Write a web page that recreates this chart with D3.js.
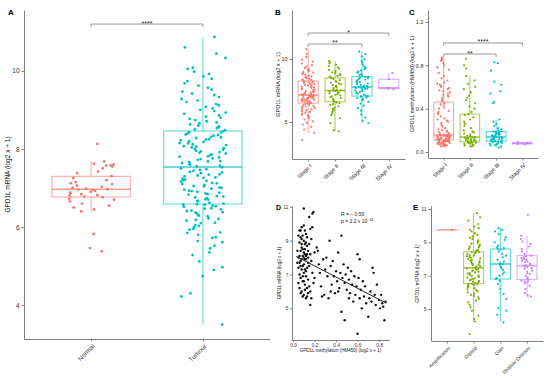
<!DOCTYPE html>
<html>
<head>
<meta charset="utf-8">
<script src="https://cdn.jsdelivr.net/npm/d3@7"></script>
<style>
body { margin: 0; background: #fff; }
svg { font-family: "Liberation Sans", Arial, sans-serif; }
.axis path, .axis line { stroke: #808080; }
.axis text { fill: #333; }
</style>
</head>
<body>
<script>
const parse = s => s.trim().split(/\s+/).map(Number);

// ---- Panel A: normal vs tumour ----
const catsA = ["Normal", "Tumour"];
const normalVals = parse(`8.13 7.68 7.62 7.6 7.58 7.57 7.55 7.5 7.42 7.38 7.3 7.25 7.2 7.15 7.12 7.1 7.06 7.03 7.0 6.98
 6.97 6.96 6.95 6.93 6.9 6.88 6.86 6.84 6.82 6.8 6.78 6.76 6.72 6.7 6.65 6.6 6.55 6.5 6.45 6.4 5.82 5.46 5.38`);
const tumourVals = parse(`3.5 4.22 4.3 4.74 4.9 4.97 5.12 5.28 5.35 5.45 5.52 5.61 5.64 5.72 5.74 5.8 5.85 5.86 5.93 5.95
 5.99 6.03 6.05 6.1 6.11 6.16 6.18 6.21 6.22 6.27 6.29 6.3 6.34 6.37 6.38 6.41 6.42 6.45 6.47 6.48 6.52 6.53 6.55 6.57 6.57 6.58
 6.6 6.62 6.66 6.67 6.7 6.71 6.74 6.76 6.78 6.79 6.83 6.84 6.86 6.88 6.9 6.92 6.93 6.96 6.98 7.0 7.01 7.04 7.05 7.08 7.1 7.12
 7.13 7.16 7.18 7.2 7.21 7.24 7.26 7.27 7.3 7.32 7.34 7.35 7.38 7.4 7.41 7.44 7.46 7.48 7.5 7.53
 7.55 7.57 7.6 7.61 7.64 7.66 7.68 7.69 7.72 7.74 7.76 7.78 7.8 7.81 7.84 7.86 7.88 7.9 7.92 7.94 7.95 7.98 8.0 8.02 8.04 8.06
 8.07 8.1 8.12 8.14 8.15 8.18 8.2 8.22 8.24 8.25 8.28 8.3 8.31 8.34 8.36 8.37 8.4 8.42 8.43 8.45
 8.48 8.5 8.53 8.55 8.58 8.6 8.63 8.66 8.68 8.71 8.74 8.77 8.8 8.83 8.86 8.9 8.93 8.97 9.0 9.04 9.08 9.12 9.15 9.2 9.24 9.28
 9.33 9.38 9.42 9.47 9.52 9.57 9.62 9.68 9.74 9.8 9.86 9.92 9.98 10.05 10.08 10.33 10.44 10.6 10.87`);
// [lower whisker, Q1, median, Q3, upper whisker]
const statsA = [[6.38, 6.77, 6.97, 7.3, 7.69], [3.5, 6.59, 7.54, 8.46, 10.85]];

// ---- Panel B: mRNA by stage ----
const stages = ["Stage I", "Stage II", "Stage III", "Stage IV"];
const mrnaStage1 = parse(`3.57 4.15 4.4 4.62 4.8 4.95 5.05 5.2 5.3 5.42 5.5 5.58 5.66 5.74 5.8 5.88 5.94 6.0 6.06 6.12 6.18
 6.23 6.28 6.33 6.38 6.42 6.46 6.49 6.52 6.55 6.58 6.61 6.64 6.66 6.69 6.72 6.74 6.77 6.79 6.82 6.84 6.87 6.89 6.91 6.94
 6.96 6.98 7.0 7.03 7.05 7.07 7.09 7.11 7.12 7.13 7.14 7.17 7.21 7.25 7.29 7.33 7.37 7.41 7.45 7.5 7.54 7.58 7.62 7.66 7.7
 7.74 7.78 7.82 7.86 7.9 7.94 7.98 8.02 8.06 8.1 8.14 8.18 8.22 8.24 8.28 8.33 8.38 8.43 8.48 8.53 8.58 8.63 8.68 8.74 8.8
 8.86 8.92 8.98 9.05 9.12 9.2 9.3 9.4 9.52 9.65 9.8 9.95 10.15 10.4 10.8`);
const mrnaStage2 = parse(`4.25 4.35 4.9 5.3 5.55 5.7 5.85 5.95 6.05 6.15 6.25 6.35 6.42 6.5 6.55 6.58 6.62 6.68 6.75 6.82
 6.9 6.97 7.03 7.1 7.16 7.22 7.28 7.33 7.38 7.43 7.47 7.49 7.52 7.58 7.64 7.7 7.76 7.82 7.88 7.94 8.0 8.06 8.12 8.18 8.25
 8.32 8.4 8.48 8.53 8.6 8.66 8.72 8.8 8.88 8.95 9.05 9.15 9.25 9.35 9.45 9.55 9.65 9.75 9.84`);
const mrnaStage3 = parse(`4.92 5.1 5.35 5.6 5.9 6.1 6.3 6.45 6.6 6.72 6.82 6.9 6.96 7.0 7.03 7.05 7.1 7.18 7.26 7.33 7.4
 7.46 7.52 7.57 7.62 7.66 7.7 7.73 7.75 7.76 7.77 7.78 7.8 7.85 7.9 7.95 8.0 8.06 8.12 8.18 8.24 8.3 8.36 8.42 8.48 8.52
 8.56 8.59 8.64 8.72 8.8 8.9 9.0 9.1 9.2 9.3 9.4 9.55 9.7 9.85 10.0 10.2 10.4 10.6`);
const mrnaStage4 = [7.6, 7.65, 7.72, 8.4, 8.9];
const statsB = [[4.13, 6.5, 7.14, 8.25, 10.8], [4.25, 6.6, 7.5, 8.5, 9.84], [4.92, 7.06, 7.78, 8.6, 10.6], [7.6, 7.65, 7.72, 8.4, 8.9]];

// ---- Panel C: methylation by stage ----
const methStage1 = parse(`0.05 0.052 0.056 0.06 0.061 0.065 0.068 0.07 0.072 0.074 0.077 0.079 0.081 0.083 0.086 0.088 0.09
 0.091 0.094 0.096 0.098 0.1 0.101 0.103 0.105 0.106 0.108 0.109 0.11 0.11 0.113 0.115 0.116 0.119 0.12 0.122 0.125 0.126
 0.128 0.13 0.131 0.133 0.135 0.137 0.139 0.14 0.142 0.143 0.145 0.147 0.149 0.15 0.152 0.153 0.155 0.156 0.157
 0.16 0.168 0.175 0.185 0.195 0.21 0.22 0.235 0.25 0.27 0.29 0.31 0.33 0.35 0.37 0.38 0.4 0.41 0.43 0.45 0.44 0.2 0.18 0.3
 0.28 0.36 0.47 0.48 0.5 0.51 0.52 0.53 0.54 0.55 0.56 0.57 0.58 0.59 0.6 0.61 0.62 0.63 0.64 0.66 0.68 0.7 0.73 0.76 0.78
 0.8 0.82 0.84 0.85 0.86 0.87`);
const methStage2 = parse(`0.05 0.055 0.06 0.065 0.07 0.075 0.08 0.083 0.086 0.088 0.09 0.092 0.093 0.095 0.098 0.1 0.103
 0.106 0.11 0.113 0.116 0.12 0.123 0.126 0.13 0.133 0.136 0.138 0.14 0.145 0.15 0.16 0.17 0.18 0.19 0.2 0.22 0.24 0.26 0.28
 0.3 0.32 0.34 0.35 0.37 0.4 0.42 0.45 0.48 0.5 0.52 0.55 0.58 0.6 0.63 0.66 0.7 0.77 0.8 0.86`);
const methStage3 = parse(`0.04 0.05 0.06 0.065 0.07 0.075 0.08 0.085 0.09 0.093 0.096 0.1 0.102 0.105 0.108 0.11 0.113 0.116
 0.12 0.123 0.126 0.13 0.133 0.136 0.14 0.143 0.146 0.15 0.153 0.156 0.16 0.163 0.166 0.17 0.173 0.176 0.18 0.183 0.186
 0.19 0.2 0.21 0.22 0.24 0.26 0.28 0.3 0.45 0.46 0.54 0.56 0.62 0.65 0.75 0.82 0.83`);
const methStage4 = [0.07, 0.075, 0.08, 0.085, 0.095];
const statsC = [[0.05, 0.11, 0.157, 0.46, 0.87], [0.05, 0.093, 0.138, 0.35, 0.70], [0.04, 0.1, 0.14, 0.19, 0.3], [0.07, 0.075, 0.08, 0.09, 0.095]];

// ---- Panel D: methylation vs mRNA ----
const scatterPoints = [
 [0.05,9.3],[0.06,8.9],[0.07,9.6],[0.08,9.1],[0.09,8.5],[0.1,9.9],[0.11,8.8],[0.12,9.4],[0.13,8.2],[0.06,8.1],[0.07,7.8],
 [0.08,8.6],[0.09,7.5],[0.1,8.3],[0.11,7.9],[0.12,7.2],[0.13,8.7],[0.14,7.7],[0.05,7.4],[0.06,7.0],[0.07,6.8],[0.08,7.3],
 [0.09,6.6],[0.1,7.1],[0.11,6.4],[0.12,6.9],[0.13,6.2],[0.14,6.7],[0.15,7.5],[0.05,6.5],[0.06,6.2],[0.07,5.9],[0.08,6.0],
 [0.09,5.7],[0.1,5.8],[0.11,6.1],[0.12,5.6],[0.13,5.7],[0.14,5.9],[0.16,5.2],[0.04,8.4],[0.04,7.7],[0.05,8.0],[0.06,9.6],
 [0.07,9.2],[0.08,9.8],[0.09,9.3],[0.1,9.0],[0.11,9.6],[0.12,8.9],[0.13,9.2],[0.14,8.4],[0.15,8.8],[0.16,9.7],[0.17,9.1],
 [0.1,10.9],[0.18,10.6],[0.15,10.4],[0.19,10.7],[0.18,9.8],[0.16,8.2],[0.17,7.8],[0.18,7.1],[0.19,6.5],[0.15,6.3],[0.16,6.0],
 [0.17,5.6],[0.2,6.8],[0.2,8.3],[0.08,7.9],[0.09,8.1],[0.1,7.6],[0.11,8.5],[0.12,7.9],[0.13,7.4],[0.07,7.5],[0.06,7.7],
 [0.09,6.9],[0.1,6.6],[0.11,7.3],[0.12,8.1],[0.14,8.0],[0.08,8.8],[0.07,8.4],[0.1,8.0],[0.11,8.2],
 [0.22,8.6],[0.23,8.4],[0.24,7.6],[0.25,7.1],[0.26,6.3],[0.27,5.7],[0.28,7.9],[0.3,7.3],[0.31,8.0],[0.32,6.9],[0.33,5.6],
 [0.34,9.0],[0.35,7.5],[0.36,6.4],[0.37,7.8],[0.38,6.9],[0.39,5.9],[0.4,7.2],[0.41,6.6],[0.42,8.3],[0.43,6.2],[0.44,7.1],
 [0.45,9.3],[0.45,4.8],[0.46,6.8],[0.47,7.6],[0.48,4.3],[0.48,6.5],[0.49,7.0],[0.5,6.1],[0.51,7.4],[0.52,6.7],[0.53,5.9],
 [0.54,7.2],[0.55,6.4],[0.56,5.4],[0.57,6.9],[0.58,5.8],[0.59,6.3],[0.6,3.5],[0.6,8.2],[0.61,6.8],[0.62,5.6],[0.62,7.9],
 [0.63,6.1],[0.64,5.0],[0.65,6.6],[0.66,5.7],[0.67,6.3],[0.68,5.3],[0.7,4.5],[0.71,5.6],[0.72,6.0],[0.73,5.4],[0.74,7.4],
 [0.75,7.1],[0.76,5.8],[0.77,5.2],[0.78,6.4],[0.8,5.5],[0.81,5.0],[0.82,5.8],[0.83,5.3],[0.84,5.1],[0.85,4.3],[0.86,5.4],
 [0.29,5.8],[0.35,6.0],[0.42,6.0],[0.52,5.6]
];
const fitIntercept = 8.17, fitSlope = -3.3, fitRange = [0.03, 0.87];

// ---- Panel E: copy number ----
const cnaCats = ["Amplification", "Diploid", "Gain", "Shallow Deletion"];
const cnaAmp = [9.75];
const cnaDiploid = parse(`3.5 4.25 4.4 4.6 4.9 5.1 5.25 5.4 5.5 5.6 5.7 5.78 5.85 5.92 6.0 6.06 6.12 6.18 6.24 6.3 6.35 6.4
 6.44 6.48 6.5 6.51 6.55 6.6 6.64 6.68 6.72 6.76 6.8 6.84 6.88 6.92 6.96 7.0 7.04 7.08 7.12 7.16 7.2 7.24 7.28 7.32 7.36 7.4
 7.43 7.46 7.5 7.54 7.58 7.62 7.66 7.7 7.74 7.78 7.82 7.86 7.9 7.95 8.0 8.04 8.08 8.12 8.16 8.2 8.24 8.28 8.32 8.36 8.4 8.42
 8.46 8.5 8.55 8.6 8.65 8.7 8.75 8.8 8.86 8.92 8.98 9.05 9.12 9.2 9.28 9.36 9.45 9.55 9.65 9.75 9.85 9.95 10.1 10.3 10.5 10.76`);
const cnaGain = parse(`4.2 4.65 4.9 5.05 5.6 5.9 6.2 6.5 6.7 6.8 6.85 7.0 7.1 7.2 7.35 7.45 7.55 7.65 7.7 7.75 7.85 7.95
 8.1 8.2 8.3 8.45 8.55 8.6 8.65 8.7 8.8 9.0 9.15 9.3 9.5 9.65 9.75 9.85`);
const cnaShallow = parse(`5.75 5.8 5.95 6.2 6.4 6.55 6.6 6.65 6.7 6.75 6.8 6.9 7.0 7.1 7.15 7.25 7.3 7.4 7.45 7.5 7.55 7.6
 7.62 7.68 7.72 7.8 7.85 7.9 7.95 8.0 8.05 8.1 8.15 8.2 8.3 8.45 8.6 8.75 8.9 9.05 9.2 9.4 10.65`);
const statsE = [[9.75, 9.75, 9.75, 9.75, 9.75], [4.25, 6.52, 7.47, 8.43, 10.76], [4.2, 6.8, 7.7, 8.6, 9.85], [5.75, 6.76, 7.6, 8.2, 9.4]];

const col2 = ["#F8766D", "#00BFC4"];
const col4 = ["#F8766D", "#7CAE00", "#00BFC4", "#C77CFF"];

const svg = d3.select("body").append("svg").attr("width", 550).attr("height", 381);

// deterministic hash for horizontal jitter (position only, not data)
const jit = i => { const s = Math.sin(i * 127.1 + 311.7) * 43758.5453; return s - Math.floor(s) - 0.5; };

function boxPanel(p) {
    const g = svg.append("g");
    const x = d3.scalePoint().domain(p.cats).range([p.left, p.right]).padding(0.6);
    const y = d3.scaleLinear().domain(p.yDomain).range([p.bottom, p.top]);
    const step = x.step();
    const bw = step * p.boxW;

    // boxes
    p.cats.forEach((c, i) => {
        const [lo, q1, md, q3, hi] = p.stats[i];
        const cx = x(c);
        const bg = g.append("g").attr("stroke", p.colors[i]).attr("stroke-opacity", 0.75)
            .attr("fill", "none").attr("stroke-width", 0.9);
        bg.append("line").attr("x1", cx).attr("x2", cx).attr("y1", y(hi)).attr("y2", y(q3));
        bg.append("line").attr("x1", cx).attr("x2", cx).attr("y1", y(q1)).attr("y2", y(lo));
        bg.append("rect").attr("x", cx - bw / 2).attr("width", bw)
            .attr("y", y(q3)).attr("height", Math.max(0, y(q1) - y(q3)));
        bg.append("line").attr("x1", cx - bw / 2).attr("x2", cx + bw / 2)
            .attr("y1", y(md)).attr("y2", y(md)).attr("stroke-width", 1.5);
    });

    // jittered points
    p.cats.forEach((c, i) => {
        g.append("g").selectAll("circle")
            .data(p.groups[i])
            .join("circle")
            .attr("cx", (d, k) => x(c) + jit(k + 1000 * i + p.seed) * step * p.jitW)
            .attr("cy", d => y(d))
            .attr("r", p.r)
            .attr("fill", p.colors[i]);
    });

    // axes
    const ya = g.append("g").attr("class", "axis").attr("transform", `translate(${p.left},0)`)
        .call(d3.axisLeft(y).tickValues(p.yTicks).tickSize(2.5).tickSizeOuter(0).tickPadding(2)
            .tickFormat(p.yFormat || d3.format("d")));
    ya.selectAll("text").style("font-size", p.tickFont + "px");
    const xa = g.append("g").attr("class", "axis").attr("transform", `translate(0,${p.bottom})`)
        .call(d3.axisBottom(x).tickSize(2.5).tickSizeOuter(0));
    xa.selectAll("text")
        .attr("x", 0).attr("y", 0).attr("dy", "0.35em")
        .attr("transform", "translate(2,6) rotate(-45)")
        .style("text-anchor", "end")
        .style("font-size", p.tickFont + "px");
    g.selectAll(".axis path").attr("stroke-width", 1);

    // y title
    g.append("text")
        .attr("transform", `translate(${p.titleX},${(p.top + p.bottom) / 2}) rotate(-90)`)
        .attr("text-anchor", "middle")
        .style("font-size", p.titleFont + "px")
        .attr("fill", "#222")
        .text(p.title);

    // panel letter
    g.append("text").attr("x", p.labelX).attr("y", p.labelY)
        .style("font-size", "8px").style("font-weight", "bold").text(p.label);

    // significance brackets
    (p.brackets || []).forEach(b => {
        const x1 = x(p.cats[b.from]), x2 = x(p.cats[b.to]), yb = y(b.y);
        g.append("path")
            .attr("d", `M${x1},${yb + 3}V${yb}H${x2}V${yb + 3}`)
            .attr("fill", "none").attr("stroke", "#8c8c8c").attr("stroke-width", 0.9);
        g.append("text").attr("x", (x1 + x2) / 2).attr("y", yb + 1.5)
            .attr("text-anchor", "middle").style("font-size", "7px").attr("fill", "#222")
            .text(b.text);
    });
}

boxPanel({
    cats: catsA, colors: col2, groups: [normalVals, tumourVals], stats: statsA, seed: 3,
    left: 24, right: 270, top: 10, bottom: 339, yDomain: [3.13, 11.56], yTicks: [4, 6, 8, 10],
    boxW: 0.7, jitW: 0.42, r: 1.4, tickFont: 6.5, titleFont: 6.5, titleX: 10,
    title: "GPD1L mRNA (log2 x + 1)", label: "A", labelX: 8, labelY: 15,
    brackets: [{ from: 0, to: 1, y: 11.2, text: "****" }]
});

boxPanel({
    cats: stages, colors: col4, groups: [mrnaStage1, mrnaStage2, mrnaStage3, mrnaStage4], stats: statsB, seed: 17,
    left: 292, right: 405, top: 10, bottom: 159, yDomain: [2.06, 13.9], yTicks: [5, 10],
    boxW: 0.75, jitW: 0.5, r: 1.1, tickFont: 5.5, titleFont: 5.5, titleX: 280,
    title: "GPD1L mRNA (log2 x + 1)", label: "B", labelX: 275, labelY: 15,
    brackets: [{ from: 0, to: 2, y: 11.2, text: "**" }, { from: 0, to: 3, y: 12.07, text: "*" }]
});

boxPanel({
    cats: stages, colors: col4, groups: [methStage1, methStage2, methStage3, methStage4], stats: statsC, seed: 41,
    left: 428, right: 538, top: 10, bottom: 158, yDomain: [-0.055, 1.31], yTicks: [0, 0.4, 0.8, 1.2],
    yFormat: d3.format(".1f"),
    boxW: 0.75, jitW: 0.5, r: 1.1, tickFont: 5.5, titleFont: 5.3, titleX: 414,
    title: "GPD1L methylation (HM450) (log2 x + 1)", label: "C", labelX: 409, labelY: 15,
    brackets: [{ from: 0, to: 2, y: 0.904, text: "**" }, { from: 0, to: 3, y: 1.006, text: "****" }]
});

boxPanel({
    cats: cnaCats, colors: col4, groups: [cnaAmp, cnaDiploid, cnaGain, cnaShallow], stats: statsE, seed: 59,
    left: 431, right: 543, top: 206, bottom: 341, yDomain: [3.08, 11.18], yTicks: [5, 7, 9, 11],
    boxW: 0.75, jitW: 0.5, r: 1.1, tickFont: 5, titleFont: 5, titleX: 419,
    title: "GPD1L mRNA (log2 x + 1)", label: "E", labelX: 413, labelY: 210
});

// ---- Panel D scatter ----
(function () {
    const left = 292, right = 389, top = 206, bottom = 340;
    const g = svg.append("g");
    const x = d3.scaleLinear().domain([-0.01, 0.893]).range([left, right]);
    const y = d3.scaleLinear().domain([3.13, 11.05]).range([bottom, top]);

    g.append("g").selectAll("circle").data(scatterPoints).join("circle")
        .attr("cx", d => x(d[0])).attr("cy", d => y(d[1])).attr("r", 1.2).attr("fill", "#111");

    g.append("line")
        .attr("x1", x(fitRange[0])).attr("y1", y(fitIntercept + fitSlope * fitRange[0]))
        .attr("x2", x(fitRange[1])).attr("y2", y(fitIntercept + fitSlope * fitRange[1]))
        .attr("stroke", "#222").attr("stroke-width", 1);

    const ya = g.append("g").attr("class", "axis").attr("transform", `translate(${left},0)`)
        .call(d3.axisLeft(y).tickValues([5, 7, 9, 11]).tickSize(2).tickSizeOuter(0).tickPadding(1.5));
    ya.selectAll("text").style("font-size", "4.8px");
    const xa = g.append("g").attr("class", "axis").attr("transform", `translate(0,${bottom})`)
        .call(d3.axisBottom(x).tickValues([0, 0.2, 0.4, 0.6, 0.8]).tickFormat(d3.format(".1f"))
            .tickSize(2).tickSizeOuter(0).tickPadding(1.5));
    xa.selectAll("text").style("font-size", "4.8px");

    g.append("text")
        .attr("transform", `translate(281,${(top + bottom) / 2}) rotate(-90)`)
        .attr("text-anchor", "middle").style("font-size", "4.5px").attr("fill", "#222")
        .text("GPD1L mRNA (log2 x + 1)");
    g.append("text").attr("x", (left + right) / 2).attr("y", 352)
        .attr("text-anchor", "middle").style("font-size", "4.5px").attr("fill", "#222")
        .text("GPD1L methylation (HM450) (log2 x + 1)");

    g.append("text").attr("x", 341).attr("y", 216).style("font-size", "5px").attr("fill", "#222")
        .text("R = \u2212 0.59");
    const pt = g.append("text").attr("x", 341).attr("y", 223).style("font-size", "5px").attr("fill", "#222");
    pt.append("tspan").text("p = 2.2 x 10");
    pt.append("tspan").attr("dy", -2).style("font-size", "3.5px").text("\u221216");

    g.append("text").attr("x", 276).attr("y", 210)
        .style("font-size", "7px").style("font-weight", "bold").text("D");
})();
</script>
</body>
</html>
